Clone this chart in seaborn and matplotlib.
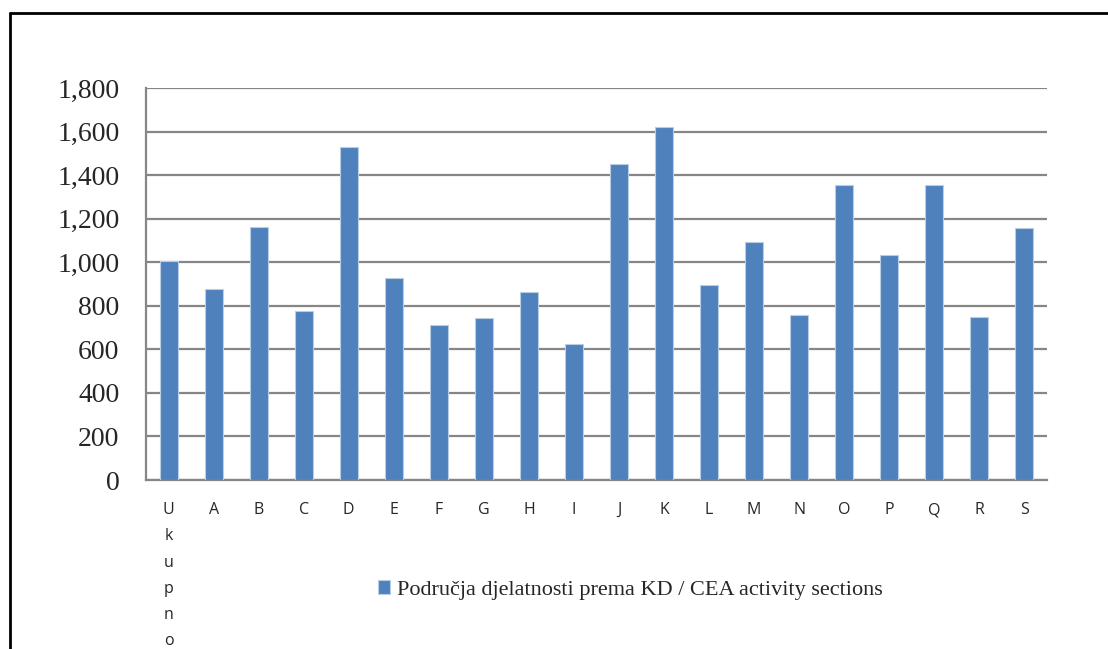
import matplotlib
matplotlib.use("Agg")
import matplotlib.pyplot as plt
import seaborn as sns
import pandas as pd
from matplotlib.ticker import FuncFormatter

categories = ["Ukupno", "A", "B", "C", "D", "E", "F", "G", "H", "I",
              "J", "K", "L", "M", "N", "O", "P", "Q", "R", "S"]
values = [1007, 876, 1160, 774, 1529, 929, 712, 744, 864, 624,
          1449, 1623, 895, 1095, 759, 1353, 1031, 1353, 750, 1159]
tick_labels = ["\n".join(c) if c == "Ukupno" else c for c in categories]
series_name = "Područja djelatnosti prema KD / CEA activity sections"

df = pd.DataFrame({"section": categories, "value": values})

sns.set_theme(style="white")
fig = plt.figure(figsize=(11.08, 6.49), dpi=100)
ax = fig.add_axes([146 / 1108, 1 - 480 / 649, 901 / 1108, 392 / 649])

sns.barplot(data=df, x="section", y="value", color="#4F81BD", width=0.4,
            edgecolor="#B9CDE5", linewidth=0.8, saturation=1, ax=ax,
            label=series_name, zorder=3)

ax.set_ylim(0, 1800)
ax.set_xlim(-0.5, len(categories) - 0.5)
ax.set_yticks(range(0, 1801, 200))
ax.yaxis.set_major_formatter(FuncFormatter(lambda v, p: f"{int(v):,}"))
ax.grid(axis="y", color="#868686", linewidth=1.6, zorder=0)
ax.set_axisbelow(True)
for s in ["top", "right"]:
    ax.spines[s].set_visible(False)
for s in ["left", "bottom"]:
    ax.spines[s].set_color("#868686")
    ax.spines[s].set_linewidth(1.6)
ax.tick_params(axis="y", length=0, pad=19, labelsize=20)
ax.tick_params(axis="x", length=0, pad=16)
for t in ax.get_yticklabels():
    t.set_family("Liberation Serif")
ax.set_xticks(range(len(categories)))
ax.set_xticklabels(tick_labels, family="Open Sans", fontsize=11.5,
                   linespacing=1.85, va="top")
ax.set_xlabel("")
ax.set_ylabel("")
if ax.legend_:
    ax.legend_.remove()

handles, labels = ax.get_legend_handles_labels()
fig.legend(handles[:1], labels[:1], loc="center left",
           bbox_to_anchor=(358 / 1108, 1 - 590 / 649), frameon=False,
           handlelength=0.55, handleheight=0.55, handletextpad=0.3,
           prop={"family": "Liberation Serif", "size": 16})

# outer frame (top and left edges visible)
fig.add_artist(plt.Line2D([10 / 1108, 10 / 1108], [0, 1 - 13 / 649],
                          transform=fig.transFigure, color="black", linewidth=2))
fig.add_artist(plt.Line2D([10 / 1108, 1], [1 - 13 / 649, 1 - 13 / 649],
                          transform=fig.transFigure, color="black", linewidth=2))

fig.savefig("out.png", dpi=100)
